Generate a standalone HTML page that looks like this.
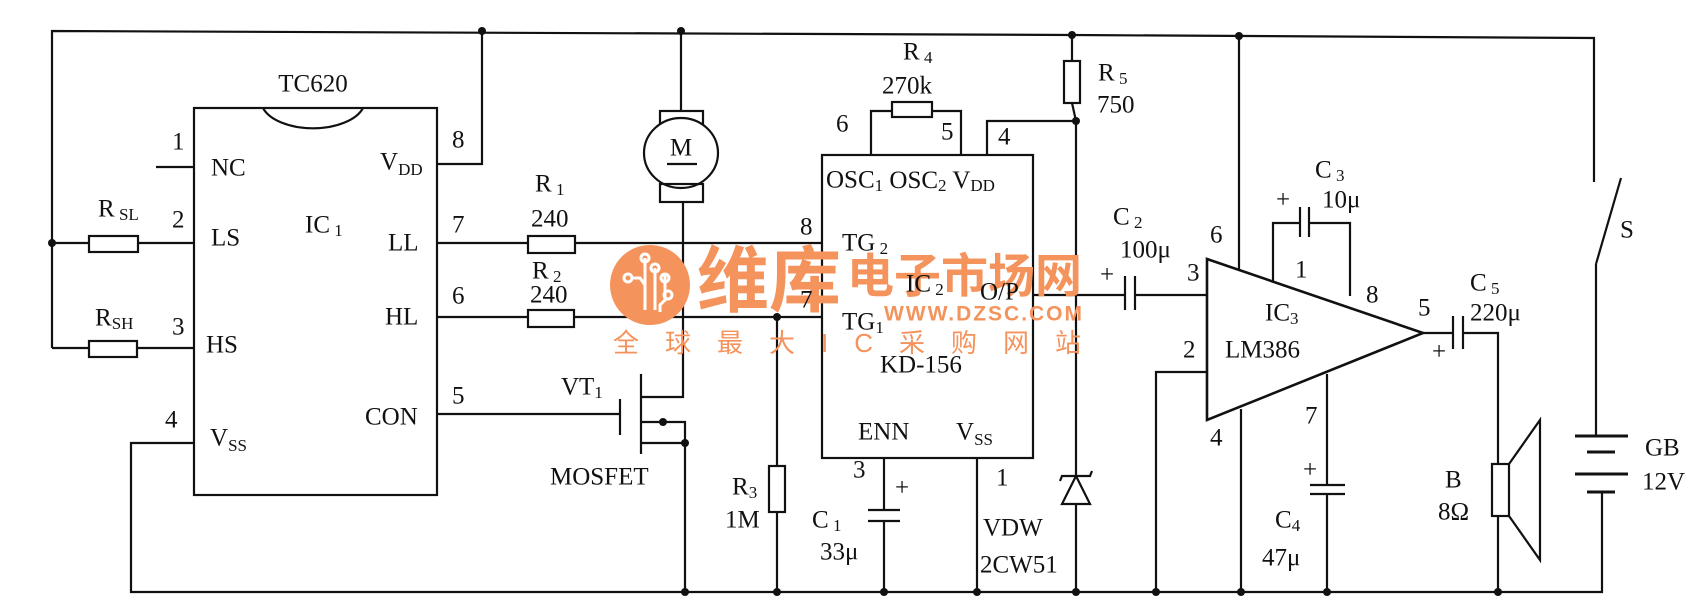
<!DOCTYPE html>
<html><head><meta charset="utf-8"><style>
html,body{margin:0;padding:0;background:#fff}
svg{display:block}
text{font-family:"Liberation Serif",serif;font-size:25px;fill:#111;dominant-baseline:central}
.s{font-size:17px}
.w{font-family:"Liberation Sans","Noto Sans CJK SC",sans-serif;fill:#f4935c;font-weight:bold}
</style></head><body>
<svg width="1693" height="601" viewBox="0 0 1693 601" xmlns="http://www.w3.org/2000/svg">
<g stroke="#111" stroke-width="2.2" fill="none">
<polyline points="52,348 52,31 1072,35 1594,38 1594,182"/>
<rect x="194" y="108" width="243" height="387"/>
<path d="M263,108 A52,28 0 0 0 363,108" />
<line x1="156" y1="167" x2="194" y2="167"/>
<polyline points="437,164 482,164 482,31"/>
<line x1="52" y1="243" x2="89" y2="243"/><rect x="89" y="236" width="49" height="16"/><line x1="138" y1="243" x2="194" y2="243"/>
<line x1="52" y1="348" x2="89" y2="348"/><rect x="89" y="341" width="48" height="16"/><line x1="137" y1="348" x2="194" y2="348"/>
<polyline points="194,443 131,443 131,592 1602,592 1602,492"/>
<line x1="437" y1="243" x2="528" y2="243"/><rect x="528" y="236" width="47" height="17"/><line x1="575" y1="243" x2="822" y2="243"/>
<line x1="437" y1="317" x2="528" y2="317"/><rect x="528" y="310" width="46" height="17"/><line x1="574" y1="317" x2="822" y2="317"/>
<line x1="437" y1="414" x2="620" y2="414"/>
<line x1="620" y1="399" x2="620" y2="435"/>
<line x1="641" y1="374" x2="641" y2="454"/>
<polyline points="641,397 683,397 683,202"/>
<polyline points="641,443 685,443"/>
<polyline points="641,422 685,422 685,592"/>
<line x1="681" y1="31" x2="681" y2="111"/>
<rect x="660" y="111" width="43" height="16"/>
<ellipse cx="681" cy="153" rx="37" ry="35" fill="#fff"/>
<rect x="660" y="184" width="43" height="18"/>
<line x1="667" y1="164" x2="697" y2="164"/>
<line x1="777" y1="317" x2="777" y2="466"/><rect x="769" y="466" width="16" height="46"/><line x1="777" y1="512" x2="777" y2="592"/>
<rect x="822" y="155" width="211" height="303"/>
<polyline points="871,155 871,111 892,111"/><rect x="892" y="102" width="40" height="15"/><polyline points="932,111 961,111 961,155"/>
<polyline points="987,155 987,121 1076,121"/>
<line x1="1072" y1="35" x2="1072" y2="61"/><rect x="1064" y="61" width="16" height="42"/><line x1="1072" y1="103" x2="1076" y2="121"/>
<line x1="1076" y1="121" x2="1076" y2="592"/>
<polygon points="1076,476 1062,504 1090,504" fill="#fff"/>
<polyline points="1060,481 1062,476 1090,476 1092,471"/>
<line x1="884" y1="458" x2="884" y2="510"/><line x1="868" y1="510" x2="900" y2="510"/><line x1="868" y1="521" x2="900" y2="521"/><line x1="884" y1="521" x2="884" y2="592"/>
<line x1="977" y1="458" x2="977" y2="592"/>
<line x1="1033" y1="295" x2="1125" y2="295"/><line x1="1125" y1="276" x2="1125" y2="310"/><line x1="1135" y1="276" x2="1135" y2="310"/><line x1="1135" y1="295" x2="1207" y2="295"/>
<polygon points="1207,259 1423,333 1207,420" stroke-width="2.6"/>
<line x1="1239" y1="36" x2="1239" y2="270"/>
<polyline points="1207,372 1156,372 1156,592"/>
<line x1="1241" y1="409" x2="1241" y2="592"/>
<polyline points="1273,281 1273,223 1300,223"/><line x1="1300" y1="207" x2="1300" y2="237"/><line x1="1309" y1="207" x2="1309" y2="237"/><polyline points="1309,223 1350,223 1350,296"/>
<line x1="1327" y1="374" x2="1327" y2="485"/><line x1="1310" y1="485" x2="1345" y2="485"/><line x1="1310" y1="494" x2="1345" y2="494"/><line x1="1327" y1="494" x2="1327" y2="592"/>
<line x1="1423" y1="333" x2="1453" y2="333"/><line x1="1453" y1="316" x2="1453" y2="349"/><line x1="1463" y1="316" x2="1463" y2="349"/>
<polyline points="1463,333 1498,333 1498,464"/>
<rect x="1492" y="464" width="17" height="52"/>
<polyline points="1509,464 1540,420 1540,560 1509,516"/>
<line x1="1498" y1="516" x2="1498" y2="592"/>
<line x1="1596" y1="264" x2="1621" y2="178"/>
<line x1="1596" y1="264" x2="1596" y2="436"/>
<line x1="1575" y1="436" x2="1628" y2="436" stroke-width="3"/>
<line x1="1587" y1="452" x2="1615" y2="452" stroke-width="3"/>
<line x1="1575" y1="474" x2="1628" y2="474" stroke-width="3"/>
<line x1="1587" y1="492" x2="1615" y2="492" stroke-width="3"/>
</g>
<g fill="#111">
<circle cx="52" cy="243" r="4"/><circle cx="482" cy="31" r="4"/><circle cx="681" cy="31" r="4"/>
<circle cx="777" cy="317" r="4"/><circle cx="663" cy="422" r="4"/><circle cx="685" cy="443" r="4"/>
<circle cx="1072" cy="35" r="4"/><circle cx="1239" cy="36" r="4"/><circle cx="1076" cy="121" r="4"/>
<circle cx="685" cy="592" r="4"/><circle cx="777" cy="592" r="4"/><circle cx="884" cy="592" r="4"/><circle cx="977" cy="592" r="4"/><circle cx="1076" cy="592" r="4"/><circle cx="1156" cy="592" r="4"/><circle cx="1241" cy="592" r="4"/><circle cx="1327" cy="592" r="4"/><circle cx="1498" cy="592" r="4"/>
</g>
<g>
<circle cx="650" cy="285" r="40" fill="#f4935c"/>
<g stroke="#fff" stroke-width="3" fill="none">
<path d="M645,258 V310 M655,268 V310 M665,275 V300 L660,305 V312 M632,278 H640 L645,285"/>
<circle cx="645" cy="258" r="4"/><circle cx="655" cy="268" r="4"/><circle cx="665" cy="278" r="4"/><circle cx="628" cy="278" r="4"/><circle cx="668" cy="295" r="4"/>
</g>
<text class="w" x="697" y="282" style="font-size:72px">维库</text>
<text class="w" x="847" y="276" style="font-size:47px">电子市场网</text>
<text class="w" x="884" y="314" style="font-size:21px" textLength="198">WWW.DZSC.COM</text>
<text class="w" x="613" y="343" style="font-size:26px;font-weight:normal" textLength="468">全球最大IC采购网站</text>
</g>
<text x="313" y="84" text-anchor="middle">TC620</text>
<text x="172" y="142">1</text><text x="211" y="168">NC</text>
<text x="172" y="220">2</text><text x="211" y="238">LS</text>
<text x="98" y="209">R<tspan class="s" dy="5"> SL</tspan></text>
<text x="172" y="327">3</text><text x="206" y="345">HS</text>
<text x="95" y="318">R<tspan class="s" dy="5">SH</tspan></text>
<text x="165" y="420">4</text><text x="210" y="438">V<tspan class="s" dy="7">SS</tspan></text>
<text x="305" y="225">IC<tspan class="s" dy="5"> 1</tspan></text>
<text x="452" y="140">8</text><text x="380" y="162">V<tspan class="s" dy="7">DD</tspan></text>
<text x="452" y="225">7</text><text x="388" y="243">LL</text>
<text x="452" y="296">6</text><text x="385" y="317">HL</text>
<text x="452" y="396">5</text><text x="365" y="417">CON</text>
<text x="535" y="184">R<tspan class="s" dy="5"> 1</tspan></text><text x="531" y="219">240</text>
<text x="532" y="271">R<tspan class="s" dy="5"> 2</tspan></text><text x="530" y="295">240</text>
<text x="681" y="148" text-anchor="middle">M</text>
<text x="561" y="387">VT<tspan class="s" dy="5">1</tspan></text>
<text x="550" y="477">MOSFET</text>
<text x="732" y="487">R<tspan class="s" dy="5">3</tspan></text><text x="725" y="520">1M</text>
<text x="836" y="124">6</text><text x="941" y="132">5</text><text x="998" y="137">4</text>
<text x="903" y="52">R<tspan class="s" dy="5"> 4</tspan></text><text x="882" y="86">270k</text>
<text x="1098" y="73">R<tspan class="s" dy="5"> 5</tspan></text><text x="1097" y="105">750</text>
<text x="826" y="180">OSC<tspan class="s" dy="5">1</tspan><tspan dy="-5"> OSC</tspan><tspan class="s" dy="5">2</tspan><tspan dy="-5"> V</tspan><tspan class="s" dy="5">DD</tspan></text>
<text x="800" y="227">8</text><text x="842" y="243">TG<tspan class="s" dy="5"> 2</tspan></text>
<text x="800" y="300">7</text><text x="842" y="322">TG<tspan class="s" dy="5">1</tspan></text>
<text x="906" y="284">IC<tspan class="s" dy="5"> 2</tspan></text><text x="980" y="292">O/P</text>
<text x="880" y="365">KD-156</text>
<text x="858" y="432">ENN</text><text x="956" y="432">V<tspan class="s" dy="7">SS</tspan></text>
<text x="853" y="470">3</text><text x="996" y="478">1</text>
<text x="895" y="488">+</text>
<text x="812" y="520">C<tspan class="s" dy="5"> 1</tspan></text><text x="820" y="552">33μ</text>
<text x="983" y="528">VDW</text><text x="980" y="565">2CW51</text>
<text x="1113" y="217">C<tspan class="s" dy="5"> 2</tspan></text><text x="1120" y="250">100μ</text><text x="1100" y="275">+</text>
<text x="1187" y="273">3</text><text x="1210" y="235">6</text><text x="1183" y="350">2</text><text x="1210" y="438">4</text>
<text x="1295" y="270">1</text><text x="1366" y="295">8</text>
<text x="1315" y="170">C<tspan class="s" dy="5"> 3</tspan></text><text x="1322" y="200">10μ</text><text x="1276" y="200">+</text>
<text x="1265" y="313">IC<tspan class="s" dy="5">3</tspan></text><text x="1225" y="350">LM386</text>
<text x="1305" y="416">7</text><text x="1303" y="470">+</text>
<text x="1275" y="520">C<tspan class="s" dy="5">4</tspan></text><text x="1262" y="558">47μ</text>
<text x="1418" y="308">5</text><text x="1432" y="352">+</text>
<text x="1470" y="283">C<tspan class="s" dy="5"> 5</tspan></text><text x="1470" y="313">220μ</text>
<text x="1445" y="480">B</text><text x="1438" y="512">8Ω</text>
<text x="1620" y="230">S</text>
<text x="1645" y="448">GB</text><text x="1642" y="482">12V</text>
</svg>
</body></html>
